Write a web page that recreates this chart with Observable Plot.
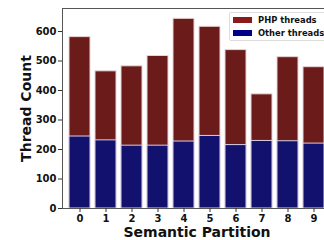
<!DOCTYPE html>
<html>
<head>
<meta charset="utf-8">
<script src="https://cdn.jsdelivr.net/npm/d3@7"></script>
<script src="https://cdn.jsdelivr.net/npm/@observablehq/plot@0.6"></script>
<style>
  html, body { margin: 0; padding: 0; background: #fff; overflow: hidden; }
  #wrap { position: relative; width: 324px; height: 240px; font-family: "DejaVu Sans", sans-serif; }
  #legend { position: absolute; left: 229px; top: 12px; width: 110px; height: 27px;
    border: 1px solid #ddd; border-radius: 2px; background: rgba(255,255,255,0.85);
    font-weight: bold; font-size: 8.4px; color: #111; }
  .item { position: absolute; left: 3px; display: flex; align-items: center; white-space: nowrap; }
  .sw { width: 19px; height: 6px; margin-right: 6px; }
</style>
</head>
<body>
<div id="wrap"></div>
<script>
const partitions = ["0","1","2","3","4","5","6","7","8","9"];
const totalThreads = [581, 465, 482, 517, 643, 616, 537, 387, 513, 479];
const otherThreads = [244, 231, 213, 213, 227, 246, 215, 229, 228, 220];
const yTicks = [0, 100, 200, 300, 400, 500, 600];
const seriesNames = ["PHP threads", "Other threads"];

const php = partitions.map((p, i) => ({p, v: totalThreads[i]}));
const other = partitions.map((p, i) => ({p, v: otherThreads[i]}));

const chart = Plot.plot({
  width: 324,
  height: 240,
  marginLeft: 62,
  marginRight: -7,
  marginTop: 8,
  marginBottom: 32,
  style: {fontFamily: "DejaVu Sans, sans-serif", fontWeight: "bold", fontSize: "10px", color: "#111", background: "#fff"},
  x: {domain: partitions, paddingInner: 0.19, paddingOuter: 0.08, label: null},
  y: {domain: [0, 678], label: null},
  marks: [
    Plot.barY(php, {x: "p", y: "v", fill: "#6b1c1a", stroke: "#e6d3d6", strokeWidth: 1}),
    Plot.barY(other, {x: "p", y: "v", fill: "#13116e", stroke: "#d6d0e6", strokeWidth: 1}),
    Plot.frame({stroke: "#555", strokeWidth: 1}),
    Plot.axisY({ticks: yTicks, tickSize: 4, tickPadding: 2, stroke: "#333", label: null, fontWeight: "bold", fontSize: 10}),
    Plot.axisX({tickSize: 4, tickPadding: 2, stroke: "#333", label: null, fontWeight: "bold", fontSize: 10}),
    Plot.text(["Thread Count"], {frameAnchor: "left", dx: -36, rotate: -90, textAnchor: "middle", lineAnchor: "middle", fontSize: 14, fontWeight: "bold", fill: "#111"}),
    Plot.text(["Semantic Partition"], {frameAnchor: "bottom", dy: 24, textAnchor: "middle", lineAnchor: "middle", fontSize: 14, fontWeight: "bold", fill: "#111"})
  ]
});
const wrap = document.getElementById("wrap");
wrap.appendChild(chart);

const legend = document.createElement("div");
legend.id = "legend";
const colors = ["#8b1a1a", "#000088"];
seriesNames.forEach((name, i) => {
  const it = document.createElement("div");
  it.className = "item";
  it.style.top = (i === 0 ? 2 : 15) + "px";
  it.innerHTML = `<span class="sw" style="background:${colors[i]}"></span><span>${name}</span>`;
  legend.appendChild(it);
});
wrap.appendChild(legend);
</script>
</body>
</html>
